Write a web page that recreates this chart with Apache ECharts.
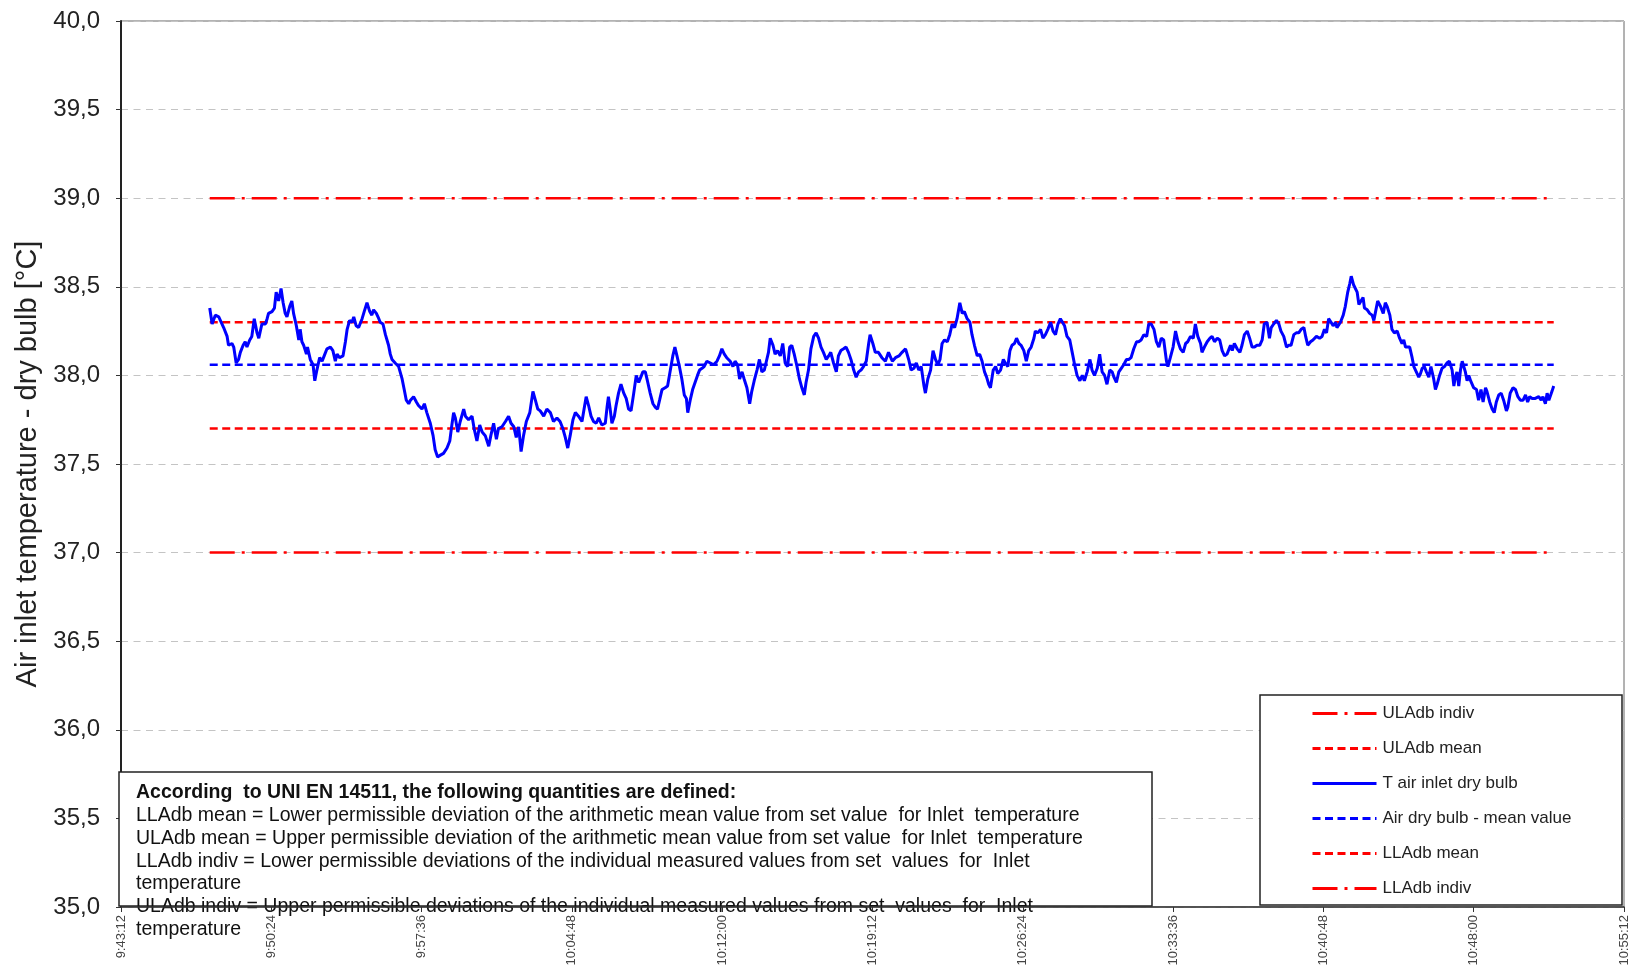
<!DOCTYPE html>
<html>
<head>
<meta charset="utf-8">
<script src="https://cdn.jsdelivr.net/npm/echarts@6/dist/echarts.min.js"></script>
<style>
  html, body { margin: 0; padding: 0; background: #fff; }
  #chart { width: 1632px; height: 976px; }
</style>
</head>
<body>
<div id="chart"></div>
<script>
// axis start of the time scale
const axisStart = '9:43:12'
const axisSpanSec = 4320
const tickStepSec = 432

// limits (°C)
const ulIndiv = 39.0
const ulMean = 38.3
const meanValue = 38.06
const llMean = 37.7
const llIndiv = 37.0

// [seconds after 9:43:12, T air inlet dry bulb °C]
const airTemp = [
  [255, 38.38], [262, 38.29], [271, 38.34], [281, 38.33], [285, 38.32], [295, 38.27], [305, 38.22], [309, 38.17],
  [319, 38.18], [324, 38.16], [331, 38.07], [338, 38.09], [343, 38.13], [351, 38.17], [357, 38.19], [362, 38.16],
  [370, 38.20], [376, 38.22], [383, 38.32], [391, 38.24], [396, 38.21], [405, 38.29], [415, 38.29], [420, 38.32],
  [424, 38.35], [434, 38.36], [441, 38.38], [446, 38.47], [453, 38.42], [460, 38.49], [466, 38.41], [472, 38.35],
  [477, 38.33], [485, 38.39], [491, 38.42], [496, 38.35], [504, 38.28], [511, 38.20], [515, 38.26], [520, 38.19],
  [525, 38.17], [533, 38.12], [536, 38.16], [544, 38.09], [552, 38.06], [557, 37.97], [563, 38.03], [571, 38.10],
  [578, 38.08], [584, 38.11], [592, 38.15], [602, 38.16], [609, 38.14], [616, 38.08], [621, 38.12], [628, 38.10],
  [638, 38.11], [645, 38.19], [650, 38.26], [657, 38.31], [664, 38.30], [669, 38.33], [676, 38.28], [683, 38.27],
  [693, 38.32], [699, 38.36], [707, 38.41], [715, 38.36], [721, 38.34], [726, 38.37], [734, 38.35], [741, 38.32],
  [745, 38.30], [753, 38.29], [760, 38.23], [769, 38.17], [774, 38.12], [779, 38.09], [788, 38.07], [798, 38.05],
  [808, 37.98], [814, 37.92], [820, 37.86], [827, 37.84], [832, 37.86], [841, 37.88], [849, 37.85], [855, 37.83],
  [865, 37.81], [872, 37.84], [879, 37.79], [889, 37.73], [897, 37.66], [903, 37.58], [910, 37.54], [918, 37.55],
  [927, 37.56], [937, 37.59], [945, 37.63], [951, 37.72], [956, 37.79], [961, 37.76], [968, 37.68], [975, 37.74],
  [985, 37.81], [990, 37.77], [999, 37.75], [1009, 37.77], [1015, 37.70], [1023, 37.63], [1031, 37.72], [1038, 37.68],
  [1047, 37.66], [1057, 37.60], [1063, 37.66], [1071, 37.73], [1079, 37.64], [1085, 37.70], [1095, 37.71], [1105, 37.74],
  [1114, 37.77], [1121, 37.73], [1129, 37.71], [1136, 37.65], [1143, 37.71], [1150, 37.57], [1157, 37.66], [1165, 37.74],
  [1175, 37.79], [1184, 37.91], [1191, 37.86], [1198, 37.81], [1205, 37.80], [1215, 37.77], [1224, 37.81], [1234, 37.79],
  [1243, 37.74], [1253, 37.76], [1262, 37.74], [1270, 37.70], [1277, 37.65], [1284, 37.59], [1291, 37.66], [1299, 37.75],
  [1306, 37.79], [1315, 37.77], [1325, 37.74], [1331, 37.81], [1337, 37.88], [1344, 37.83], [1351, 37.77], [1358, 37.74],
  [1366, 37.73], [1373, 37.76], [1382, 37.72], [1392, 37.73], [1397, 37.82], [1401, 37.88], [1406, 37.81], [1411, 37.73],
  [1418, 37.77], [1423, 37.83], [1430, 37.90], [1437, 37.95], [1445, 37.90], [1452, 37.87], [1459, 37.81], [1466, 37.80],
  [1473, 37.89], [1481, 38.00], [1488, 37.96], [1492, 37.96], [1500, 38.02], [1507, 38.02], [1513, 37.97], [1521, 37.90],
  [1529, 37.84], [1536, 37.82], [1542, 37.81], [1548, 37.86], [1555, 37.92], [1564, 37.93], [1571, 37.94], [1579, 38.03],
  [1586, 38.11], [1592, 38.16], [1598, 38.11], [1605, 38.05], [1612, 37.98], [1619, 37.89], [1625, 37.87], [1629, 37.79],
  [1636, 37.86], [1643, 37.92], [1650, 37.96], [1657, 38.00], [1663, 38.03], [1670, 38.04], [1676, 38.05], [1684, 38.08],
  [1694, 38.07], [1703, 38.06], [1713, 38.08], [1720, 38.11], [1727, 38.15], [1734, 38.12], [1741, 38.10], [1751, 38.08],
  [1759, 38.05], [1765, 38.08], [1772, 38.06], [1778, 37.98], [1785, 38.02], [1791, 37.98], [1799, 37.93], [1807, 37.84],
  [1813, 37.91], [1820, 37.97], [1828, 38.03], [1835, 38.09], [1842, 38.02], [1849, 38.03], [1855, 38.08], [1861, 38.13],
  [1866, 38.21], [1874, 38.17], [1880, 38.12], [1887, 38.14], [1895, 38.11], [1902, 38.18], [1909, 38.07], [1916, 38.05],
  [1922, 38.16], [1928, 38.17], [1935, 38.12], [1943, 38.05], [1950, 37.98], [1957, 37.93], [1964, 37.89], [1969, 37.96],
  [1976, 38.03], [1983, 38.15], [1991, 38.22], [1998, 38.24], [2005, 38.21], [2012, 38.16], [2019, 38.13], [2027, 38.09],
  [2034, 38.11], [2040, 38.13], [2048, 38.07], [2056, 38.02], [2062, 38.11], [2069, 38.14], [2077, 38.15], [2084, 38.16],
  [2091, 38.13], [2098, 38.09], [2106, 38.03], [2113, 37.99], [2120, 38.02], [2127, 38.03], [2134, 38.05], [2142, 38.08],
  [2149, 38.18], [2153, 38.23], [2161, 38.18], [2168, 38.13], [2177, 38.13], [2187, 38.10], [2197, 38.08], [2206, 38.13],
  [2217, 38.08], [2226, 38.10], [2236, 38.11], [2245, 38.13], [2255, 38.15], [2264, 38.09], [2271, 38.03], [2279, 38.04],
  [2286, 38.07], [2293, 38.03], [2300, 38.05], [2308, 37.94], [2312, 37.90], [2319, 37.98], [2327, 38.03], [2334, 38.14],
  [2341, 38.09], [2348, 38.06], [2354, 38.09], [2360, 38.18], [2367, 38.20], [2375, 38.19], [2382, 38.23], [2389, 38.29],
  [2396, 38.27], [2403, 38.32], [2411, 38.41], [2418, 38.35], [2424, 38.36], [2432, 38.32], [2440, 38.30], [2446, 38.23],
  [2453, 38.17], [2461, 38.11], [2468, 38.12], [2475, 38.08], [2482, 38.02], [2488, 37.99], [2494, 37.95], [2499, 37.93],
  [2507, 38.03], [2514, 38.05], [2520, 38.01], [2528, 38.03], [2536, 38.09], [2542, 38.07], [2549, 38.05], [2555, 38.14],
  [2561, 38.17], [2568, 38.18], [2574, 38.21], [2581, 38.18], [2587, 38.17], [2595, 38.14], [2602, 38.08], [2609, 38.14],
  [2616, 38.16], [2624, 38.21], [2628, 38.25], [2635, 38.24], [2643, 38.26], [2650, 38.21], [2657, 38.23], [2664, 38.26],
  [2672, 38.30], [2679, 38.25], [2686, 38.23], [2693, 38.29], [2700, 38.32], [2705, 38.32], [2712, 38.28], [2719, 38.22],
  [2727, 38.20], [2734, 38.13], [2741, 38.06], [2748, 38.00], [2756, 37.97], [2763, 38.00], [2769, 37.97], [2777, 38.02],
  [2785, 38.09], [2791, 38.03], [2798, 38.00], [2806, 38.04], [2813, 38.12], [2820, 38.02], [2827, 38.00], [2834, 37.95],
  [2842, 38.03], [2849, 38.02], [2854, 37.99], [2861, 37.96], [2868, 38.02], [2875, 38.04], [2882, 38.06], [2890, 38.09],
  [2897, 38.09], [2903, 38.10], [2911, 38.15], [2919, 38.19], [2925, 38.19], [2932, 38.20], [2940, 38.23], [2948, 38.22],
  [2954, 38.29], [2961, 38.29], [2969, 38.26], [2976, 38.19], [2983, 38.16], [2990, 38.21], [2997, 38.20], [3005, 38.08],
  [3009, 38.05], [3016, 38.10], [3024, 38.16], [3031, 38.25], [3038, 38.19], [3045, 38.15], [3053, 38.13], [3060, 38.18],
  [3066, 38.19], [3074, 38.22], [3082, 38.21], [3088, 38.29], [3095, 38.22], [3103, 38.18], [3107, 38.13], [3114, 38.16],
  [3122, 38.19], [3130, 38.21], [3136, 38.22], [3143, 38.19], [3151, 38.21], [3158, 38.20], [3165, 38.14], [3172, 38.11],
  [3179, 38.12], [3189, 38.17], [3194, 38.14], [3200, 38.18], [3208, 38.15], [3216, 38.13], [3222, 38.17], [3229, 38.23],
  [3237, 38.25], [3244, 38.21], [3251, 38.16], [3258, 38.16], [3265, 38.17], [3273, 38.17], [3280, 38.20], [3286, 38.29],
  [3294, 38.30], [3301, 38.21], [3306, 38.27], [3313, 38.29], [3321, 38.31], [3328, 38.29], [3334, 38.25], [3342, 38.22],
  [3350, 38.16], [3356, 38.17], [3363, 38.17], [3371, 38.23], [3378, 38.24], [3385, 38.24], [3392, 38.26], [3400, 38.27],
  [3405, 38.22], [3411, 38.17], [3419, 38.19], [3426, 38.20], [3436, 38.22], [3445, 38.21], [3452, 38.22], [3459, 38.26],
  [3465, 38.24], [3471, 38.32], [3478, 38.30], [3484, 38.28], [3491, 38.30], [3495, 38.27], [3500, 38.26], [3505, 38.30],
  [3513, 38.34], [3519, 38.39], [3526, 38.47], [3532, 38.52], [3536, 38.56], [3543, 38.51], [3548, 38.52], [3553, 38.47],
  [3558, 38.40], [3564, 38.42], [3570, 38.44], [3574, 38.38], [3582, 38.37], [3589, 38.35], [3596, 38.34], [3601, 38.31],
  [3605, 38.35], [3612, 38.42], [3620, 38.39], [3628, 38.35], [3634, 38.41], [3639, 38.39], [3647, 38.34], [3653, 38.26],
  [3660, 38.24], [3668, 38.25], [3675, 38.21], [3682, 38.18], [3687, 38.20], [3692, 38.16], [3696, 38.17], [3704, 38.16],
  [3711, 38.10], [3716, 38.05], [3723, 38.02], [3730, 37.99], [3735, 38.01], [3740, 38.04], [3746, 38.05], [3752, 38.02],
  [3759, 37.99], [3765, 38.05], [3773, 37.98], [3778, 37.92], [3783, 37.95], [3790, 38.00], [3797, 38.04], [3804, 38.05],
  [3811, 38.07], [3818, 38.08], [3826, 38.03], [3831, 37.94], [3835, 37.99], [3840, 38.02], [3845, 37.94], [3850, 38.03],
  [3855, 38.08], [3859, 38.07], [3864, 38.02], [3869, 37.97], [3874, 38.00], [3879, 37.97], [3883, 37.96], [3888, 37.93],
  [3896, 37.92], [3902, 37.86], [3909, 37.92], [3915, 37.85], [3922, 37.93], [3926, 37.91], [3934, 37.85], [3941, 37.81],
  [3947, 37.79], [3953, 37.85], [3960, 37.89], [3967, 37.90], [3974, 37.86], [3982, 37.80], [3986, 37.82], [3993, 37.90],
  [4001, 37.93], [4008, 37.92], [4015, 37.88], [4022, 37.86], [4030, 37.86], [4037, 37.89], [4043, 37.85], [4049, 37.88],
  [4056, 37.87], [4065, 37.87], [4075, 37.88], [4082, 37.86], [4087, 37.88], [4094, 37.84], [4099, 37.90], [4104, 37.86],
  [4108, 37.87], [4113, 37.91], [4118, 37.94]
]

const legendNames = ['ULAdb indiv', 'ULAdb mean', 'T air inlet dry bulb', 'Air dry bulb - mean value', 'LLAdb mean', 'LLAdb indiv']

const noteTitle = 'According  to UNI EN 14511, the following quantities are defined:'
const noteLines = [
  'LLAdb mean = Lower permissible deviation of the arithmetic mean value from set value  for Inlet  temperature',
  'ULAdb mean = Upper permissible deviation of the arithmetic mean value from set value  for Inlet  temperature',
  'LLAdb indiv = Lower permissible deviations of the individual measured values from set  values  for  Inlet',
  'temperature',
  'ULAdb indiv = Upper permissible deviations of the individual measured values from set  values  for  Inlet',
  'temperature'
]

function toSec(str) {
  const p = str.split(':').map(Number)
  return p[0] * 3600 + p[1] * 60 + p[2]
}
function fmtTime(sec) {
  const h = Math.floor(sec / 3600)
  const m = Math.floor((sec % 3600) / 60)
  const s = Math.round(sec % 60)
  return h + ':' + String(m).padStart(2, '0') + ':' + String(s).padStart(2, '0')
}

const t0 = toSec(axisStart)
const tempData = airTemp.map(d => [t0 + d[0], d[1]])
const tFirst = tempData[0][0]
const tLast = tempData[tempData.length - 1][0]
const flat = v => [[tFirst, v], [tLast, v]]

const RED = '#ff0000'
const BLUE = '#0000ff'
const dashDot = [25, 7, 3, 7]
const dashed = [8, 4.5]

function limitSeries(name, value, color, type) {
  return {
    name: name,
    type: 'line',
    data: flat(value),
    symbol: 'none',
    silent: true,
    itemStyle: { color: color },
    lineStyle: { color: color, width: 2.5, type: type }
  }
}

const chart = echarts.init(document.getElementById('chart'))

const noteFont = "'Liberation Sans', Arial, sans-serif"
const noteGraphics = [
  {
    type: 'rect', z: 5,
    shape: { x: 119, y: 772, width: 1033, height: 134 },
    style: { fill: '#fff', stroke: '#222', lineWidth: 1.5 }
  },
  {
    type: 'text', z: 6, x: 136, y: 793,
    style: { text: noteTitle, fill: '#111', font: 'bold 19.5px ' + noteFont, verticalAlign: 'middle' }
  }
].concat(noteLines.map((line, i) => ({
  type: 'text', z: 6, x: 136, y: 816 + i * 22.7,
  style: { text: line, fill: '#111', font: '19.5px ' + noteFont, verticalAlign: 'middle' }
})))

const option = {
  animation: false,
  backgroundColor: '#fff',
  grid: {
    left: 121, right: 8, top: 21, bottom: 69,
    show: true, borderColor: '#666', borderWidth: 1
  },
  xAxis: {
    type: 'value',
    z: 10,
    min: t0,
    max: t0 + axisSpanSec,
    interval: tickStepSec,
    axisLine: { lineStyle: { color: '#333', width: 1.5 } },
    axisTick: { show: true, length: 5, lineStyle: { color: '#333' } },
    splitLine: { show: false },
    axisLabel: {
      rotate: 90,
      fontSize: 13,
      color: '#444',
      margin: 8,
      fontFamily: 'Liberation Sans',
      formatter: v => fmtTime(v)
    }
  },
  yAxis: {
    type: 'value',
    z: 0,
    min: 35,
    max: 40,
    interval: 0.5,
    name: 'Air inlet temperature - dry bulb [°C]',
    nameLocation: 'middle',
    nameGap: 72,
    nameTextStyle: { fontSize: 29, color: '#222', fontFamily: 'Liberation Sans' },
    axisLine: { show: true, lineStyle: { color: '#222', width: 2 } },
    axisTick: { show: true, length: 5, lineStyle: { color: '#333' } },
    axisLabel: {
      fontSize: 24,
      color: '#222',
      margin: 21,
      fontFamily: 'Liberation Sans',
      formatter: v => v.toFixed(1).replace('.', ',')
    },
    splitLine: { show: true, lineStyle: { color: '#c4c4c4', width: 1, type: [7, 5.5] } }
  },
  legend: {
    z: 8,
    orient: 'vertical',
    left: 1311,
    top: 705,
    padding: 0,
    itemWidth: 64,
    itemHeight: 14,
    itemGap: 18,
    data: legendNames,
    itemStyle: { opacity: 0 },
    lineStyle: { width: 3 },
    textStyle: { fontSize: 17, color: '#222', fontFamily: 'Liberation Sans', padding: [0, 0, 0, 1] }
  },
  graphic: [
    {
      type: 'rect', z: 5,
      shape: { x: 1260, y: 695, width: 362, height: 210 },
      style: { fill: '#fff', stroke: '#222', lineWidth: 1.5 }
    }
  ].concat(noteGraphics),
  series: [
    limitSeries('ULAdb indiv', ulIndiv, RED, dashDot),
    limitSeries('ULAdb mean', ulMean, RED, dashed),
    limitSeries('Air dry bulb - mean value', meanValue, BLUE, dashed),
    limitSeries('LLAdb mean', llMean, RED, dashed),
    limitSeries('LLAdb indiv', llIndiv, RED, dashDot),
    {
      name: 'T air inlet dry bulb',
      type: 'line',
      data: tempData,
      symbol: 'none',
      itemStyle: { color: BLUE },
      lineStyle: { color: BLUE, width: 3 }
    }
  ]
}

chart.setOption(option)
window.addEventListener('resize', () => chart.resize())
</script>
</body>
</html>
